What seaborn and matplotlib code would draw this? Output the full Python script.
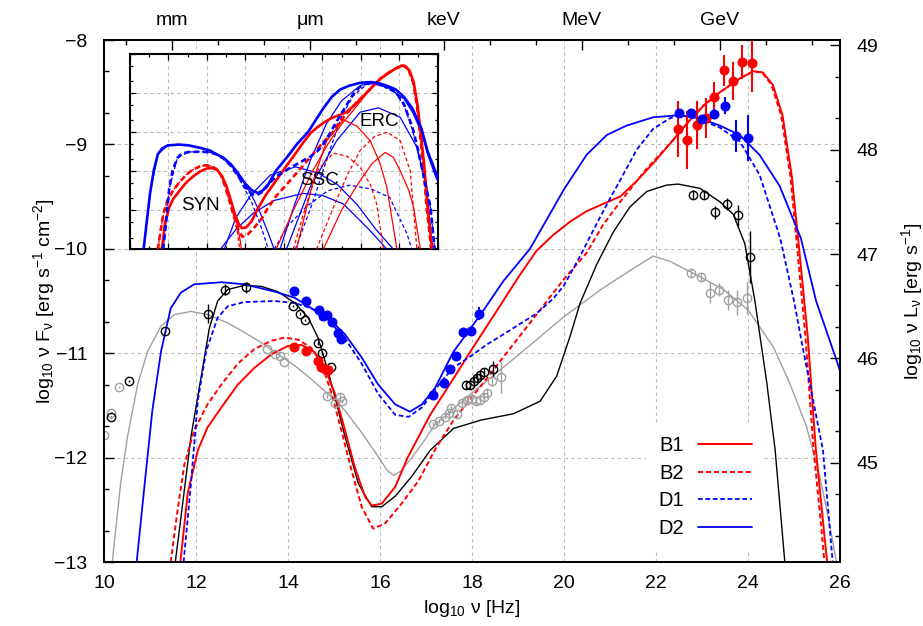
import matplotlib
matplotlib.use("Agg")
import matplotlib.pyplot as plt
from matplotlib.lines import Line2D
from matplotlib.ticker import FixedLocator, MultipleLocator
import numpy as np
import seaborn as sns

# --- model curves: log10 nu [Hz] vs log10 nu F_nu ---
b1_x = [11.66, 11.82, 12.04, 12.25, 12.55, 12.91, 13.27, 13.64, 14.0, 14.29, 14.58, 14.8, 15.02, 15.24, 15.45,
        15.67, 15.82, 16.04, 16.33, 16.6, 17.09, 17.6, 18.0, 18.5, 19.04, 19.4, 19.76, 20.13, 20.49, 20.85, 21.22,
        21.58, 21.94, 22.31, 22.67, 23.03, 23.39, 23.82, 24.11, 24.32, 24.54, 24.75, 24.95, 25.1, 25.3, 25.47,
        25.65, 25.72]
b1_y = [-13.0, -12.34, -11.93, -11.71, -11.52, -11.30, -11.14, -11.01, -10.93, -10.92, -10.99, -11.14, -11.39,
        -11.74, -12.09, -12.37, -12.46, -12.44, -12.28, -12.0, -11.59, -11.24, -10.96, -10.62, -10.25, -10.02,
        -9.87, -9.74, -9.64, -9.57, -9.5, -9.35, -9.18, -8.99, -8.80, -8.63, -8.5, -8.37, -8.30, -8.31, -8.43,
        -8.72, -9.3, -9.95, -10.85, -11.9, -12.7, -13.0]

b2_x = [11.45, 11.6, 11.75, 11.96, 12.25, 12.55, 12.91, 13.27, 13.64, 13.93, 14.22, 14.51, 14.73, 14.95, 15.16,
        15.38, 15.6, 15.85, 16.11, 16.47, 16.84, 17.2, 17.6, 18.2, 18.8, 19.4, 19.98, 20.49, 20.85, 21.22, 21.8,
        22.31, 22.67, 23.03, 23.39, 23.82, 24.11, 24.3, 24.5, 24.72, 24.92, 25.06, 25.25, 25.42, 25.6, 25.66]
b2_y = [-13.0, -12.5, -12.06, -11.74, -11.49, -11.30, -11.10, -10.96, -10.88, -10.85, -10.87, -10.95, -11.10,
        -11.39, -11.74, -12.12, -12.47, -12.68, -12.63, -12.44, -12.22, -11.92, -11.64, -11.31, -10.97, -10.63,
        -10.30, -10.04, -9.77, -9.55, -9.23, -8.99, -8.80, -8.63, -8.5, -8.37, -8.30, -8.31, -8.42, -8.72, -9.3,
        -9.95, -10.85, -11.9, -12.7, -13.0]

d1_x = [11.73, 11.89, 12.04, 12.22, 12.47, 12.69, 13.05, 13.71, 14.15, 14.51, 14.87, 15.24, 15.6, 15.96, 16.33,
        16.62, 16.91, 17.3, 17.59, 18.0, 18.31, 18.68, 19.04, 19.4, 19.76, 20.0, 20.35, 20.64, 20.96, 21.2, 21.58,
        21.94, 22.3, 22.52, 22.95, 23.39, 23.82, 24.25, 24.7, 25.0, 25.2, 25.63, 25.84]
d1_y = [-13.0, -12.25, -11.45, -10.98, -10.66, -10.55, -10.51, -10.50, -10.52, -10.57, -10.68, -10.86, -11.10,
        -11.39, -11.59, -11.61, -11.52, -11.29, -11.14, -11.02, -10.92, -10.82, -10.72, -10.62, -10.48, -10.35,
        -10.07, -9.82, -9.55, -9.36, -9.05, -8.85, -8.75, -8.72, -8.76, -8.84, -8.97, -9.29, -9.9, -10.5, -10.97,
        -11.93, -13.0]

d2_x = [10.71, 10.87, 11.05, 11.24, 11.45, 11.67, 11.96, 12.55, 13.05, 13.71, 14.15, 14.51, 14.87, 15.24, 15.6,
        15.96, 16.33, 16.65, 16.91, 17.2, 17.59, 18.17, 18.68, 19.26, 20.0, 20.49, 20.93, 21.36, 21.94, 22.52,
        22.95, 23.39, 23.82, 24.25, 24.69, 25.15, 25.48, 25.91, 26.0]
d2_y = [-13.0, -12.31, -11.55, -10.98, -10.57, -10.42, -10.34, -10.32, -10.34, -10.41, -10.47, -10.57, -10.66,
        -10.82, -11.04, -11.30, -11.49, -11.56, -11.49, -11.33, -10.99, -10.64, -10.31, -10.0, -9.43, -9.10, -8.91,
        -8.82, -8.74, -8.72, -8.75, -8.82, -8.91, -9.10, -9.40, -9.9, -10.5, -11.05, -11.17]

blk_x = [11.55, 11.71, 11.89, 12.11, 12.29, 12.47, 12.69, 13.05, 13.42, 13.78, 14.15, 14.44, 14.65, 14.87, 15.02,
         15.24, 15.53, 15.82, 16.04, 16.33, 16.69, 17.09, 17.6, 18.2, 18.9, 19.48, 19.84, 20.13, 20.35, 20.71,
         21.07, 21.43, 21.8, 22.23, 22.48, 22.95, 23.39, 23.68, 23.93, 24.15, 24.41, 24.59, 24.8]
blk_y = [-13.0, -12.44, -11.80, -11.23, -10.76, -10.5, -10.39, -10.35, -10.36, -10.41, -10.52, -10.66, -10.85,
         -11.17, -11.42, -11.80, -12.25, -12.47, -12.47, -12.37, -12.18, -11.93, -11.72, -11.64, -11.58, -11.46,
         -11.22, -10.84, -10.52, -10.15, -9.84, -9.60, -9.45, -9.39, -9.38, -9.42, -9.55, -9.67, -9.95, -10.5,
         -11.29, -11.93, -13.0]

gry_x = [10.18, 10.36, 10.51, 10.73, 10.95, 11.24, 11.53, 11.89, 12.25, 12.69, 13.05, 13.42, 13.78, 14.15, 14.51,
         14.87, 15.24, 15.6, 15.96, 16.15, 16.3, 16.45, 16.62, 16.91, 17.2, 18.0, 19.0, 20.0, 20.8, 21.5, 21.94,
         22.3, 22.75, 23.47, 24.01, 24.55, 24.91, 25.27, 25.56, 25.77, 25.92]
gry_y = [-13.0, -12.25, -11.80, -11.30, -10.98, -10.74, -10.63, -10.60, -10.63, -10.71, -10.80, -10.90, -11.01,
         -11.12, -11.25, -11.39, -11.55, -11.76, -11.99, -12.12, -12.17, -12.13, -12.04, -11.87, -11.68, -11.38,
         -11.02, -10.65, -10.39, -10.19, -10.07, -10.12, -10.22, -10.39, -10.59, -10.94, -11.29, -11.70, -12.18,
         -12.63, -13.0]

# --- emission components shown in the inset ---
d2_syn_x = [10.71, 11.05, 11.45, 11.96, 12.55, 13.05, 13.71, 14.15, 14.51, 14.87, 15.24, 15.6, 15.96, 16.33, 16.8,
            17.2, 17.5]
d2_syn_y = [-13.0, -11.55, -10.57, -10.34, -10.32, -10.34, -10.41, -10.47, -10.57, -10.66, -10.82, -11.04, -11.32,
            -11.62, -12.1, -12.6, -13.0]
d2_ssc_x = [14.9, 15.5, 16.3, 17.3, 18.6, 19.8, 20.8, 21.8, 22.8, 23.7]
d2_ssc_y = [-13.0, -12.2, -11.6, -11.1, -10.89, -11.05, -11.35, -11.85, -12.5, -13.0]
d2_ssc2_x = [14.7, 15.5, 16.4, 17.5, 19.0, 20.0, 21.1, 22.5, 23.36]
d2_ssc2_y = [-13.0, -12.5, -12.08, -11.75, -11.57, -11.62, -11.84, -12.53, -13.0]
d2_erc_x = [17.8, 18.6, 19.4, 20.2, 21.0, 22.0, 22.6, 23.4, 24.25, 24.7, 25.15, 25.5, 25.9, 26.0]
d2_erc_y = [-13.0, -11.8, -10.7, -9.8, -9.2, -8.8, -8.76, -8.86, -9.15, -9.5, -10.0, -10.6, -11.15, -11.25]
d2_erc2_x = [18.14, 19.36, 20.75, 21.97, 22.92, 24.05, 24.92, 25.44, 25.7]
d2_erc2_y = [-13.0, -11.42, -10.22, -9.49, -9.38, -9.62, -10.39, -11.42, -13.0]

d1_syn_x = [11.73, 12.04, 12.47, 13.05, 13.71, 14.15, 14.51, 14.87, 15.24, 15.6, 15.96, 16.33, 16.8, 17.2]
d1_syn_y = [-13.0, -11.45, -10.66, -10.51, -10.50, -10.52, -10.57, -10.68, -10.86, -11.12, -11.45, -11.8, -12.4,
            -13.0]
d1_ssc_x = [17.5, 18.2, 19.2, 20.3, 21.4, 22.5, 23.5, 24.4, 24.66]
d1_ssc_y = [-13.0, -12.4, -11.9, -11.5, -11.36, -11.45, -11.67, -12.6, -13.0]
d1_erc_x = [18.6, 19.5, 20.3, 21.0, 21.6, 22.3, 22.95, 23.82, 24.25, 24.7, 25.2, 25.63, 25.84]
d1_erc_y = [-13.0, -11.8, -10.6, -9.6, -9.08, -8.78, -8.78, -9.0, -9.32, -9.95, -11.0, -11.95, -13.0]

b1_syn_x = [11.66, 11.82, 12.04, 12.25, 12.55, 12.91, 13.27, 13.64, 14.0, 14.29, 14.58, 14.8, 15.02, 15.24,
            15.45, 15.67, 15.8]
b1_syn_y = [-13.0, -12.34, -11.93, -11.71, -11.52, -11.30, -11.14, -11.01, -10.93, -10.92, -10.99, -11.14, -11.39,
            -11.74, -12.1, -12.6, -13.0]
b1_c1_x = [18.66, 19.53, 20.23, 21.1, 21.8, 22.49, 23.0, 23.36, 23.88]
b1_c1_y = [-13.0, -11.24, -10.22, -9.68, -9.85, -10.22, -10.8, -11.42, -13.0]
b1_c2_x = [20.05, 21.0, 21.97, 22.6, 23.27, 23.7, 24.05, 24.5, 24.75, 25.1]
b1_c2_y = [-13.0, -12.0, -11.24, -10.8, -10.52, -10.65, -10.99, -11.5, -11.93, -13.0]
b1_erc_x = [17.6, 18.5, 19.5, 20.3, 21.0, 21.6, 22.3, 23.0, 23.8, 24.2, 24.5, 24.75, 25.1, 25.47, 25.72]
b1_erc_y = [-13.0, -12.0, -11.0, -10.3, -9.8, -9.45, -9.02, -8.66, -8.39, -8.30, -8.43, -8.73, -9.97, -11.9, -13.0]

b2_syn_x = [11.45, 11.6, 11.75, 11.96, 12.25, 12.55, 12.91, 13.27, 13.64, 13.93, 14.22, 14.51, 14.73, 14.95,
            15.16, 15.38, 15.6, 15.7]
b2_syn_y = [-13.0, -12.5, -12.06, -11.74, -11.49, -11.30, -11.10, -10.96, -10.88, -10.85, -10.87, -10.95, -11.10,
            -11.39, -11.74, -12.12, -12.6, -13.0]
b2_c1_x = [18.49, 19.2, 19.8, 20.57, 21.3, 21.97, 22.5, 22.83, 23.18]
b2_c1_y = [-13.0, -11.8, -10.95, -10.54, -10.62, -10.9, -11.35, -11.84, -13.0]
b2_c2_x = [19.7, 20.6, 21.3, 21.97, 22.7, 23.36, 24.05, 24.57, 24.92]
b2_c2_y = [-13.0, -11.9, -11.1, -10.47, -10.12, -10.0, -10.22, -10.99, -13.0]

# --- observed points ---
red_x = [14.13, 14.38, 14.65, 14.72, 14.8, 14.86, 22.48, 22.68, 22.88, 23.08, 23.27, 23.47, 23.67, 23.87, 24.08]
red_y = [-10.94, -10.98, -11.07, -11.13, -11.15, -11.16, -8.85, -8.96, -8.81, -8.75, -8.55, -8.29, -8.39, -8.21,
         -8.22]
red_e = [0, 0, 0, 0, 0, 0, 0.27, 0.28, 0.23, 0.19, 0.15, 0.15, 0.18, 0.16, 0.28]

blue_x = [14.13, 14.38, 14.67, 14.75, 14.84, 14.95, 15.08, 15.16, 17.15, 17.38, 17.52, 17.65, 17.81, 17.97, 18.15,
          22.5, 22.75, 22.99, 23.25, 23.49, 23.74, 23.99]
blue_y = [-10.40, -10.50, -10.59, -10.64, -10.63, -10.70, -10.81, -10.86, -11.40, -11.29, -11.15, -11.03, -10.80,
          -10.79, -10.62, -8.70, -8.70, -8.76, -8.71, -8.63, -8.92, -8.94]
blue_e = [0, 0, 0, 0, 0, 0, 0, 0, 0, 0, 0, 0, 0, 0, 0.06, 0, 0, 0, 0.05, 0.08, 0.15, 0.22]

black_x = [10.16, 10.55, 11.32, 12.25, 12.62, 13.09, 14.11, 14.25, 14.36, 14.65, 14.74, 14.93, 17.87, 17.95,
           18.04, 18.11, 18.18, 18.27, 18.46, 22.81, 23.04, 23.29, 23.54, 23.79, 24.04]
black_y = [-11.61, -11.27, -10.79, -10.62, -10.39, -10.37, -10.55, -10.62, -10.68, -10.90, -11.0, -11.13, -11.30,
           -11.30, -11.27, -11.24, -11.21, -11.18, -11.15, -9.48, -9.48, -9.65, -9.57, -9.68, -10.08]
black_e = [0.01, 0.01, 0.01, 0.09, 0.05, 0.05, 0.01, 0.01, 0.01, 0.02, 0.02, 0.01, 0.04, 0.04, 0.04, 0.04, 0.04,
           0.04, 0.08, 0.04, 0.04, 0.06, 0.06, 0.1, 0.25]

gray_x = [10.0, 10.15, 10.33, 13.55, 13.71, 13.82, 13.91, 14.85, 15.02, 15.13, 15.18, 17.16, 17.29, 17.41, 17.49,
          17.54, 17.68, 17.79, 17.89, 17.99, 18.08, 18.17, 18.25, 18.33, 18.44, 18.64, 22.77, 22.97, 23.17, 23.37,
          23.57, 23.77, 23.97]
gray_y = [-11.78, -11.57, -11.32, -10.96, -11.01, -11.03, -11.08, -11.41, -11.48, -11.42, -11.46, -11.68, -11.65,
          -11.61, -11.57, -11.52, -11.58, -11.48, -11.45, -11.44, -11.46, -11.45, -11.42, -11.38, -11.27, -11.23,
          -10.23, -10.27, -10.42, -10.39, -10.49, -10.51, -10.47]
gray_e = [0.01, 0.01, 0.01, 0, 0, 0, 0, 0.02, 0.02, 0.04, 0.02, 0.02, 0.02, 0.02, 0.02, 0.02, 0.04, 0.04, 0.04,
          0.04, 0.04, 0.04, 0.04, 0.04, 0.04, 0.15, 0.04, 0.04, 0.1, 0.06, 0.1, 0.12, 0.15]

band_pos = [11.48, 14.48, 17.38, 20.38, 23.38]
band_lab = ["mm", "\u03bcm", "keV", "MeV", "GeV"]
band_minor = [10.48, 12.48, 13.48, 15.48, 16.48, 18.38, 19.38, 21.38, 22.38, 24.38, 25.38]
lum_offset = 57.05

RED, BLUE, GREY = "#ff0000", "#0000ff", "#a0a0a0"
DASH = (0, (2.6, 1.5))

sns.set_theme(style="white")
plt.rcParams["font.family"] = ["Liberation Sans", "DejaVu Sans"]
plt.rcParams["mathtext.fontset"] = "custom"
plt.rcParams["mathtext.rm"] = "Liberation Sans"
plt.rcParams["mathtext.it"] = "Liberation Sans:italic"
plt.rcParams["axes.edgecolor"] = "black"
plt.rcParams["axes.linewidth"] = 1.3
for key in ["text.color", "axes.labelcolor", "xtick.color", "ytick.color"]:
    plt.rcParams[key] = "black"


def curve(ax, x, y, color, ls="-", lw=1.3, z=3):
    sns.lineplot(x=x, y=y, ax=ax, color=color, linestyle=ls, linewidth=lw,
                 estimator=None, sort=False, zorder=z)


def log_minor(lo, hi):
    out = []
    for n in range(int(np.floor(lo)) - 1, int(np.ceil(hi)) + 1):
        for f in (0.301, 0.699):
            if lo < n + f < hi:
                out.append(n + f)
    return out


def grid(ax):
    for gx in range(12, 26, 2):
        ax.axvline(gx, color="#bbbbbb", lw=0.8, ls=(0, (3, 3)), zorder=0.5)
    for gy in range(-12, -8):
        ax.axhline(gy, color="#bbbbbb", lw=0.8, ls=(0, (3, 3)), zorder=0.5)


fig = plt.figure(figsize=(9.23, 6.26), dpi=100)
ax = fig.add_axes([0.1127, 0.1022, 0.7974, 0.8339])
grid(ax)

curve(ax, gry_x, gry_y, GREY, lw=1.0)
curve(ax, blk_x, blk_y, "black", lw=1.0)
curve(ax, b2_x, b2_y, RED, ls=DASH, lw=1.4)
curve(ax, b1_x, b1_y, RED, lw=1.4)
curve(ax, d1_x, d1_y, BLUE, ls=DASH, lw=1.3)
curve(ax, d2_x, d2_y, BLUE, lw=1.3)

ax.errorbar(gray_x, gray_y, yerr=gray_e, fmt="o", ms=6.0, mfc="none", mec=GREY, mew=1.0,
            ecolor=GREY, elinewidth=1.0, capsize=0, zorder=4)
ax.errorbar(black_x, black_y, yerr=black_e, fmt="o", ms=6.0, mfc="none", mec="black", mew=1.0,
            ecolor="black", elinewidth=1.0, capsize=0, zorder=4)
ax.errorbar(red_x, red_y, yerr=red_e, fmt="o", ms=6.2, color=RED, ecolor=RED, elinewidth=1.5,
            capsize=0, zorder=5)
ax.errorbar(blue_x, blue_y, yerr=blue_e, fmt="o", ms=6.2, color=BLUE, ecolor=BLUE, elinewidth=1.5,
            capsize=0, zorder=5)

ax.set_xlim(10, 26)
ax.set_ylim(-13, -8)
ax.set_xticks(range(10, 27, 2))
ax.xaxis.set_minor_locator(MultipleLocator(1))
ax.set_yticks(range(-13, -7))
ax.yaxis.set_minor_locator(FixedLocator(log_minor(-13, -8)))
ax.tick_params(which="major", direction="in", length=7, width=1.0, labelsize=14, colors="black")
ax.tick_params(which="minor", direction="in", length=3.5, width=1.0)
ax.tick_params(axis="x", pad=9)
ax.tick_params(axis="y", pad=12)
ax.set_xlabel(r"$\mathrm{log_{10}\ \nu\ [Hz]}$", fontsize=14)
ax.set_ylabel(r"$\mathrm{log_{10}\ \nu\ F_{\nu}\ [erg\ s^{-1}\ cm^{-2}]}$", fontsize=14)
ax.xaxis.set_label_coords(0.5, -0.068)
ax.yaxis.set_label_coords(-0.064, 0.5)

ax2 = ax.twinx()
ax2.set_ylim(-13 + lum_offset, -8 + lum_offset)
ax2.set_yticks(range(45, 50))
ax2.yaxis.set_minor_locator(FixedLocator(log_minor(-13 + lum_offset, -8 + lum_offset)))
ax2.tick_params(which="major", direction="in", length=7, width=1.0, labelsize=14, pad=12)
ax2.tick_params(which="minor", direction="in", length=3.5, width=1.0)
ax2.set_ylabel(r"$\mathrm{log_{10}\ \nu\ L_{\nu}\ [erg\ s^{-1}]}$", fontsize=14)
ax2.yaxis.set_label_coords(1.08, 0.5)
ax2.grid(False)

axt = ax.secondary_xaxis("top")
axt.set_xticks(band_pos, labels=band_lab)
axt.xaxis.set_minor_locator(FixedLocator(band_minor))
axt.tick_params(which="major", direction="in", length=7, width=1.0, labelsize=14, pad=8)
axt.tick_params(which="minor", direction="in", length=3.5, width=1.0)

handles = [Line2D([], [], color=RED, lw=1.4),
           Line2D([], [], color=RED, lw=1.4, ls=DASH),
           Line2D([], [], color=BLUE, lw=1.3, ls=DASH),
           Line2D([], [], color=BLUE, lw=1.3)]
leg = ax.legend(handles, ["B1", "B2", "D1", "D2"], loc="lower right", bbox_to_anchor=(0.905, 0.012),
                markerfirst=False, frameon=True, fontsize=14.5, handlelength=2.7, handletextpad=0.7,
                labelspacing=0.42, borderpad=0.6, borderaxespad=0.3, fancybox=False)
leg.get_frame().set_facecolor("white")
leg.get_frame().set_edgecolor("none")
leg.get_frame().set_alpha(1.0)

# --- inset with the emission components ---
ins = fig.add_axes([0.1408, 0.6018, 0.3334, 0.312])
ins.set_facecolor("white")
grid(ins)
for x, y in [(d2_syn_x, d2_syn_y), (d2_ssc_x, d2_ssc_y), (d2_ssc2_x, d2_ssc2_y), (d2_erc_x, d2_erc_y),
             (d2_erc2_x, d2_erc2_y)]:
    curve(ins, x, y, BLUE, lw=0.9)
for x, y in [(d1_syn_x, d1_syn_y), (d1_ssc_x, d1_ssc_y), (d1_erc_x, d1_erc_y)]:
    curve(ins, x, y, BLUE, ls=(0, (3, 2)), lw=0.9)
for x, y in [(b1_syn_x, b1_syn_y), (b1_c1_x, b1_c1_y), (b1_c2_x, b1_c2_y), (b1_erc_x, b1_erc_y)]:
    curve(ins, x, y, RED, lw=0.9)
for x, y in [(b2_syn_x, b2_syn_y), (b2_c1_x, b2_c1_y), (b2_c2_x, b2_c2_y)]:
    curve(ins, x, y, RED, ls=(0, (3, 2)), lw=0.9)
curve(ins, b2_x, b2_y, RED, ls=(0, (2.2, 1.3)), lw=1.9, z=4)
curve(ins, b1_x, b1_y, RED, lw=1.9, z=4)
curve(ins, d1_x, d1_y, BLUE, ls=(0, (2.2, 1.3)), lw=1.9, z=4)
curve(ins, d2_x, d2_y, BLUE, lw=1.9, z=4)
ins.text(13.64, -11.87, "SYN", fontsize=13.5, ha="center", va="center", zorder=6)
ins.text(19.88, -11.24, "SSC", fontsize=13.5, ha="center", va="center", zorder=6)
ins.text(22.96, -9.74, "ERC", fontsize=13.5, ha="center", va="center", zorder=6)
ins.set_xlim(10, 26)
ins.set_ylim(-13, -8)
ins.set_xticks(range(10, 27, 2))
ins.xaxis.set_minor_locator(MultipleLocator(1))
ins.set_yticks(range(-13, -7))
ins.yaxis.set_minor_locator(FixedLocator(log_minor(-13, -8)))
ins.tick_params(which="both", direction="in", top=True, right=True, bottom=True, left=True,
                labelbottom=False, labelleft=False, width=0.9)
ins.tick_params(which="major", length=4)
ins.tick_params(which="minor", length=2)
for s in ins.spines.values():
    s.set_linewidth(1.5)

fig.savefig("out.png", dpi=100)
